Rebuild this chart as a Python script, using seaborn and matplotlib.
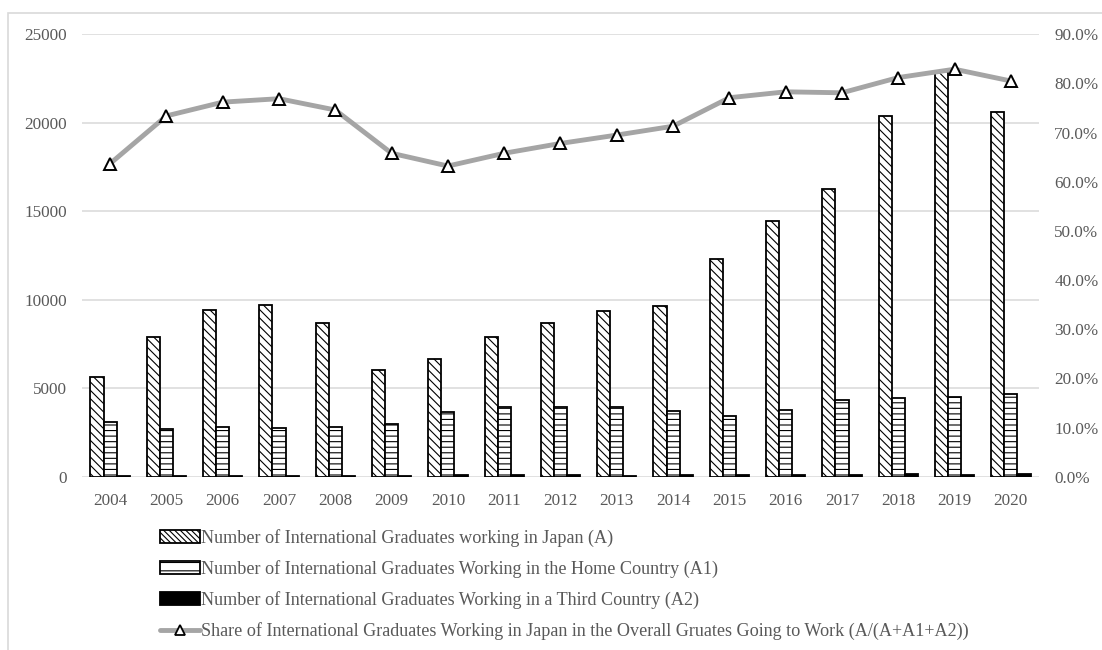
import numpy as np
import pandas as pd
import matplotlib
matplotlib.use("Agg")
import matplotlib.pyplot as plt
from matplotlib.patches import Patch, Rectangle
from matplotlib.lines import Line2D
from matplotlib.ticker import PercentFormatter, FixedLocator
import seaborn as sns

# ---- data -------------------------------------------------------------
years = ["2004", "2005", "2006", "2007", "2008", "2009", "2010", "2011", "2012",
         "2013", "2014", "2015", "2016", "2017", "2018", "2019", "2020"]
working_japan = [5650, 7890, 9430, 9710, 8710, 6040, 6640, 7890, 8710,
                 9360, 9660, 12310, 14460, 16250, 20360, 22900, 20590]
working_home = [3110, 2700, 2830, 2760, 2830, 2960, 3680, 3940, 3940,
                3940, 3720, 3430, 3770, 4340, 4430, 4490, 4700]
working_third = [60, 50, 50, 50, 50, 60, 100, 70, 70,
                 60, 80, 80, 90, 90, 140, 90, 150]
share_japan = [63.7, 73.4, 76.2, 76.9, 74.6, 65.8, 63.2, 65.8, 67.8,
               69.5, 71.3, 77.1, 78.3, 78.1, 81.2, 82.9, 80.5]

series_labels = [
    "Number of International Graduates working in Japan (A)",
    "Number of International Graduates Working in the Home Country (A1)",
    "Number of International Graduates Working in a Third Country (A2)",
]
line_label = ("Share of International Graduates Working in Japan in the "
              "Overall Gruates Going to Work (A/(A+A1+A2))")

left_ticks = [0, 5000, 10000, 15000, 20000, 25000]
right_ticks = [0, 10, 20, 30, 40, 50, 60, 70, 80, 90]

# ---- style ------------------------------------------------------------
sns.set_theme(style="white")
plt.rcParams["font.family"] = ["Liberation Serif", "DejaVu Serif"]
plt.rcParams["hatch.linewidth"] = 0.8
plt.rcParams["hatch.color"] = "black"

text_gray = "#595959"
grid_gray = "#D9D9D9"
line_gray = "#A5A5A5"
fs = 12.3
legend_fs = 13.1

df = pd.DataFrame({
    "year": years * 3,
    "value": working_japan + working_home + working_third,
    "series": [series_labels[0]] * len(years) + [series_labels[1]] * len(years)
              + [series_labels[2]] * len(years),
})

fig = plt.figure(figsize=(11.02, 6.5), dpi=100)
ax = fig.add_axes([82 / 1102, 1 - 476.7 / 650, (1039 - 82) / 1102, (476.7 - 34.3) / 650])

sns.barplot(data=df, x="year", y="value", hue="series", order=years,
            hue_order=series_labels, width=0.7, ax=ax, legend=False,
            palette=["white", "white", "black"], edgecolor="black",
            linewidth=1.3, saturation=1)

hatches = ["\\\\\\\\", "---", None]
for container, h in zip(ax.containers, hatches):
    for bar in container:
        if h:
            bar.set_hatch(h)

ax.set_xlim(-0.5, len(years) - 0.5)
ax.set_ylim(0, 25000)
ax.yaxis.set_major_locator(FixedLocator(left_ticks))
ax.set_yticklabels([str(t) for t in left_ticks])
ax.grid(axis="y", color=grid_gray, linewidth=1.1)
ax.set_axisbelow(True)
ax.set_xlabel("")
ax.set_ylabel("")
for s in ax.spines.values():
    s.set_visible(False)
ax.tick_params(axis="both", length=0, labelsize=fs, labelcolor=text_gray)
ax.tick_params(axis="y", pad=11)
ax.tick_params(axis="x", pad=12)

# share of graduates on the secondary axis
ax2 = ax.twinx()
sns.lineplot(x=np.arange(len(years)), y=share_japan, ax=ax2, color=line_gray,
             linewidth=3.5, marker="^", markersize=8.5,
             markerfacecolor="white", markeredgecolor="black",
             markeredgewidth=1.4, legend=False)
ax2.set_ylim(0, 90)
ax2.yaxis.set_major_locator(FixedLocator(right_ticks))
ax2.yaxis.set_major_formatter(PercentFormatter(xmax=100, decimals=1))
ax2.set_ylabel("")
ax2.grid(False)
for s in ax2.spines.values():
    s.set_visible(False)
ax2.tick_params(axis="y", length=0, labelsize=fs, labelcolor=text_gray, pad=11)

# legend below the plot
handles = [
    Patch(facecolor="white", edgecolor="black", hatch="\\\\\\\\\\\\", linewidth=1.3),
    Patch(facecolor="white", edgecolor="black", hatch="--", linewidth=1.3),
    Patch(facecolor="black", edgecolor="black", linewidth=1.3),
    Line2D([0], [0], color=line_gray, linewidth=3.5, marker="^", markersize=7,
           markerfacecolor="white", markeredgecolor="black", markeredgewidth=1.3),
]
fig.legend(handles, series_labels + [line_label], loc="upper left",
           bbox_to_anchor=(160 / 1102, 1 - 529 / 650), frameon=False,
           fontsize=legend_fs, labelcolor=text_gray, handlelength=2.2,
           handleheight=0.7, handletextpad=0.05, labelspacing=0.72,
           borderpad=0, borderaxespad=0)

# light chart border
fig.patches.append(Rectangle((8 / 1102, -0.1), 1.2, 1.1 - 13 / 650,
                             transform=fig.transFigure, fill=False,
                             edgecolor=grid_gray, linewidth=1.2))

fig.savefig("out.png", dpi=100)
